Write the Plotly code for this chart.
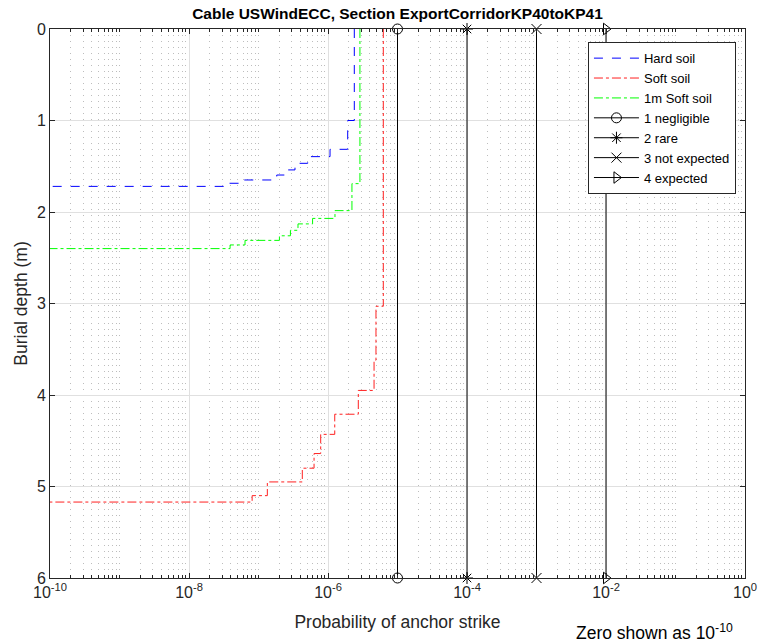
import plotly.graph_objects as go

# Hard soil step curve (probability vs depth); zero shown as 1e-10
hard_depth = [0.0, 1.0, 1.315, 1.395, 1.468, 1.54, 1.596, 1.65, 1.686, 1.72]
hard_prob = [2.39e-6, 1.92e-6, 1.07e-6, 5.1e-7, 3.35e-7, 2.63e-7, 1.83e-7, 5.4e-8, 3.5e-8, 1e-10]

soft_depth = [0.0, 3.03, 3.62, 3.95, 4.21, 4.43, 4.64, 4.80, 4.95, 5.10, 5.17]
soft_prob = [6.25e-6, 4.9e-6, 4.6e-6, 2.73e-6, 1.25e-6, 7.85e-7, 6.3e-7, 4.27e-7, 1.34e-7, 8.1e-8, 1e-10]

soft1m_depth = [0.0, 1.69, 1.985, 2.07, 2.13, 2.2, 2.26, 2.31, 2.36, 2.40]
soft1m_prob = [2.88e-6, 2.21e-6, 1.26e-6, 6.0e-7, 3.7e-7, 2.88e-7, 2.0e-7, 6.4e-8, 3.9e-8, 1e-10]

# Likelihood thresholds
thr_names = ["1 negligible", "2 rare", "3 not expected", "4 expected"]
thr_values = [1e-5, 1e-4, 1e-3, 1e-2]
thr_symbols = ["circle-open", "asterisk-open", "x-thin-open", "triangle-right-open"]
depth_range = [0, 6]

xtick_vals = [1e-10, 1e-8, 1e-6, 1e-4, 1e-2, 1]
xtick_text = ["10<sup>-10</sup>", "10<sup>-8</sup>", "10<sup>-6</sup>",
              "10<sup>-4</sup>", "10<sup>-2</sup>", "10<sup>0</sup>"]

FONT = "Liberation Sans, Arial, Helvetica, sans-serif"

fig = go.Figure()
fig.add_trace(go.Scatter(x=hard_prob, y=hard_depth, mode="lines", name="Hard soil",
                         line=dict(color="#0000ff", dash="dash", width=1, shape="vh")))
fig.add_trace(go.Scatter(x=soft_prob, y=soft_depth, mode="lines", name="Soft soil",
                         line=dict(color="#ff2020", dash="dashdot", width=1, shape="vh")))
fig.add_trace(go.Scatter(x=soft1m_prob, y=soft1m_depth, mode="lines", name="1m Soft soil",
                         line=dict(color="#00ff00", dash="dashdot", width=1, shape="vh")))
for n, v, s in zip(thr_names, thr_values, thr_symbols):
    fig.add_trace(go.Scatter(x=[v, v], y=depth_range, mode="lines+markers", name=n,
                             line=dict(color="black", width=1),
                             marker=dict(symbol=s, size=10, color="black",
                                         line=dict(color="black", width=1)),
                             cliponaxis=False))

fig.update_layout(
    width=761, height=644,
    margin=dict(l=50, r=16, t=29, b=66),
    paper_bgcolor="white", plot_bgcolor="white",
    font=dict(family=FONT, size=16, color="#262626"),
    title=dict(text="<b>Cable USWindECC, Section ExportCorridorKP40toKP41</b>",
               x=0.5, xref="paper", xanchor="center", y=1 - 13.5 / 644, yref="container",
               yanchor="middle", font=dict(size=15.5, color="black")),
    legend=dict(x=0.987, y=0.976, xanchor="right", yanchor="top",
                bgcolor="white", bordercolor="#262626", borderwidth=1,
                font=dict(size=13, color="black"), tracegroupgap=0, itemwidth=45),
    showlegend=True,
)
fig.update_xaxes(
    type="log", range=[-10, 0],
    tickvals=xtick_vals, ticktext=xtick_text,
    ticks="inside", ticklen=5, tickcolor="#262626",
    showline=True, linecolor="#262626", linewidth=1, mirror="ticks",
    showgrid=True, gridcolor="#e0e0e0", gridwidth=1,
    minor=dict(dtick="D1", ticks="inside", ticklen=3, tickcolor="#262626",
               showgrid=True, gridcolor="#bdbdbd", griddash="1px,5px", gridwidth=1),
    title=dict(text="Probability of anchor strike", font=dict(size=17.5), standoff=15),
    zeroline=False, automargin=False,
)
fig.update_yaxes(
    range=[6, 0], tickvals=[0, 1, 2, 3, 4, 5, 6],
    ticks="inside", ticklen=5, tickcolor="#262626",
    showline=True, linecolor="#262626", linewidth=1, mirror="ticks",
    showgrid=True, gridcolor="#e0e0e0", gridwidth=1,
    title=dict(text="Burial depth (m)", font=dict(size=17.5), standoff=4),
    zeroline=False, automargin=False,
)
fig.add_annotation(text="Zero shown as 10<sup>-10</sup>", xref="paper", yref="paper",
                   x=0.986, y=-0.098, xanchor="right", yanchor="middle", showarrow=False,
                   font=dict(size=17.5, color="black"))

fig.write_html("out.html", config={"displayModeBar": False},
               post_script="document.body.style.margin='0px';")
